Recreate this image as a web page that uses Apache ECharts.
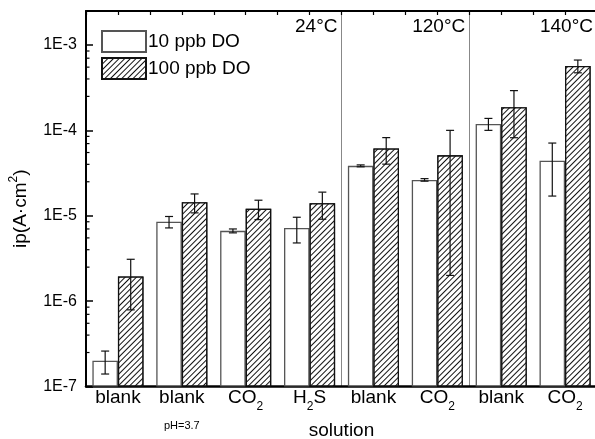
<!DOCTYPE html>
<html>
<head>
<meta charset="utf-8">
<script src="https://cdn.jsdelivr.net/npm/echarts@6/dist/echarts.min.js"></script>
<style>
html, body { margin: 0; padding: 0; background: #fff; }
#chart { width: 595px; height: 439px; }
</style>
</head>
<body>
<div id="chart"></div>
<script>
var categories = ['blank', 'blank', 'CO2', 'H2S', 'blank', 'CO2', 'blank', 'CO2'];
var categoryNotes = ['', 'pH=3.7', '', '', '', '', '', ''];
var seriesNames = ['10 ppb DO', '100 ppb DO'];
var do10 = [2.0e-7, 8.5e-6, 6.65e-6, 7.2e-6, 3.84e-5, 2.63e-5, 1.19e-4, 4.4e-5];
var do10Err = [0.6e-7, 1.3e-6, 0.35e-6, 2.4e-6, 1.0e-6, 0.9e-6, 1.9e-5, 2.7e-5];
var do100 = [1.94e-6, 1.44e-5, 1.21e-5, 1.4e-5, 6.12e-5, 5.1e-5, 1.87e-4, 5.69e-4];
var do100Err = [1.15e-6, 3.6e-6, 3.1e-6, 4.9e-6, 2.1e-5, 4.9e-5, 1.05e-4, 0.97e-4];
var tempLabels = ['24°C', '120°C', '140°C'];
var tempGroupEnds = [4, 6, 8];
var yMin = 1e-7, yMax = 2.5e-3;
var minorSteps = [2.5, 4, 5.5, 7, 8.5];

var FONT = '"Liberation Sans", Arial, sans-serif';

// CO2 -> CO{2}, H2S -> H{2}S
var subLabel = function(name) {
	return name.replace(/(\D+)|(\d)/g, function(m, a, d) {
		return a ? '{m|' + a + '}' : '{s|' + d + '}';
	});
};

var errData = function(vals, errs) {
	var out = [];
	for (var i = 0; i < vals.length; ++i) {
		out.push([i, vals[i] - errs[i], vals[i] + errs[i]]);
	}
	return out;
};

var minorData = [];
for (var d = -7; d < -2; ++d) {
	for (var k = 0; k < minorSteps.length; ++k) {
		var v = minorSteps[k] * Math.pow(10, d);
		if (v < yMax) minorData.push([0, v]);
	}
}

var makeErrRender = function(side) {
	return function(params, api) {
		var i = api.value(0);
		var bw = api.size([1, 0])[0];
		var lo = api.coord([i, api.value(1)]);
		var hi = api.coord([i, api.value(2)]);
		var x = lo[0] + side * bw * 0.2;
		var h = 4;
		var st = {stroke: '#111', lineWidth: 1.2};
		return {
			type: 'group',
			children: [
				{type: 'line', shape: {x1: x, y1: lo[1], x2: x, y2: hi[1]}, style: st},
				{type: 'line', shape: {x1: x - h, y1: lo[1], x2: x + h, y2: lo[1]}, style: st},
				{type: 'line', shape: {x1: x - h, y1: hi[1], x2: x + h, y2: hi[1]}, style: st}
			]
		};
	};
};

var myChart = echarts.init(document.getElementById('chart'), null, {renderer: 'canvas'});

var hatch = {
	symbol: 'rect',
	symbolSize: 1,
	dashArrayX: [1, 0],
	dashArrayY: [1, 3],
	rotation: -Math.PI / 4,
	color: '#111',
	backgroundColor: '#fff'
};

var option = {
	animation: false,
	backgroundColor: '#fff',
	textStyle: {fontFamily: FONT},
	grid: {left: 86, top: 11, right: -2, bottom: 52.5, containLabel: false, outerBoundsMode: 'none'},
	legend: {
		data: seriesNames,
		orient: 'vertical',
		left: 96,
		top: 25,
		itemWidth: 44,
		itemHeight: 21,
		itemGap: 4,
		icon: 'rect',
		textStyle: {fontSize: 19, color: '#000', fontFamily: FONT, padding: [0, 0, 0, -3]}
	},
	xAxis: [{
		type: 'category',
		data: categories,
		boundaryGap: true,
		axisLine: {lineStyle: {color: '#000', width: 2.5}},
		axisTick: {show: false},
		axisLabel: {
			interval: 0,
			margin: 2,
			color: '#000',
			formatter: function(value, idx) {
				var s = subLabel(value);
				if (categoryNotes[idx]) s += '\n{ph|' + categoryNotes[idx] + '}';
				return s;
			},
			rich: {
				m: {fontSize: 19, fontFamily: FONT, color: '#000', verticalAlign: 'top', lineHeight: 19},
				s: {fontSize: 12, fontFamily: FONT, color: '#000', verticalAlign: 'top', lineHeight: 12, padding: [12, 0, 0, 0]},
				ph: {fontSize: 11, fontFamily: FONT, color: '#000', lineHeight: 36}
			}
		},
		splitLine: {
			show: true,
			interval: function(i) { return tempGroupEnds.indexOf(i) >= 0; },
			lineStyle: {color: '#888', width: 1}
		},
		name: 'solution',
		nameLocation: 'middle',
		nameGap: 35,
		nameMoveOverlap: false,
		nameTextStyle: {fontSize: 19, color: '#000', fontFamily: FONT}
	}, {
		type: 'value',
		position: 'top',
		min: 0,
		max: categories.length * 2,
		interval: 1,
		axisLine: {show: true, lineStyle: {color: '#000', width: 2}},
		axisTick: {show: true, inside: true, length: 4, lineStyle: {color: '#000', width: 1.2}},
		axisLabel: {show: false},
		splitLine: {show: false}
	}],
	yAxis: {
		type: 'log',
		logBase: 10,
		min: yMin,
		max: yMax,
		startValue: yMin,
		axisLine: {show: true, lineStyle: {color: '#000', width: 2}},
		axisTick: {show: true, inside: true, length: 7, lineStyle: {color: '#000', width: 1.5}},
		axisLabel: {
			fontSize: 16,
			color: '#000',
			fontFamily: FONT,
			margin: 9,
			formatter: function(v) {
				var e = Math.log10(v);
				if (Math.abs(e - Math.round(e)) > 1e-6) return '';
				return '1E' + Math.round(e);
			}
		},
		splitLine: {show: false},
		name: '{m|ip(A·cm}{sup|2}{m|)}',
		nameLocation: 'middle',
		nameGap: 56,
		nameRotate: 90,
		nameMoveOverlap: false,
		nameTextStyle: {
			padding: [0, 20, 0, 0],
			rich: {
				m: {fontSize: 19, fontFamily: FONT, color: '#000', verticalAlign: 'bottom'},
				sup: {fontSize: 12, fontFamily: FONT, color: '#000', verticalAlign: 'top', padding: [0, 0, 10, 0]}
			}
		}
	},
	series: [{
		name: seriesNames[0],
		type: 'bar',
		data: do10,
		barGap: '0%',
		barCategoryGap: '20%',
		itemStyle: {color: '#fff', borderColor: '#555', borderWidth: 1.3}
	}, {
		name: seriesNames[1],
		type: 'bar',
		data: do100,
		barGap: '0%',
		barCategoryGap: '20%',
		itemStyle: {color: '#fff', borderColor: '#111', borderWidth: 1.3, decal: hatch}
	}, {
		type: 'custom',
		silent: true,
		z: 4,
		renderItem: makeErrRender(-1),
		encode: {x: 0, y: [1, 2]},
		data: errData(do10, do10Err)
	}, {
		type: 'custom',
		silent: true,
		z: 4,
		renderItem: makeErrRender(1),
		encode: {x: 0, y: [1, 2]},
		data: errData(do100, do100Err)
	}, {
		type: 'custom',
		silent: true,
		z: 4,
		renderItem: function(params, api) {
			var p = api.coord([0, api.value(1)]);
			var x0 = params.coordSys.x;
			return {type: 'line', shape: {x1: x0, y1: p[1], x2: x0 + 3.5, y2: p[1]}, style: {stroke: '#000', lineWidth: 1.2}};
		},
		encode: {x: 0, y: 1},
		data: minorData
	}]
};

myChart.setOption(option);

// temperature labels sit just left of each group divider
var graphics = [];
for (var t = 0; t < tempLabels.length; ++t) {
	var px = myChart.convertToPixel({xAxisIndex: 1}, tempGroupEnds[t] * 2);
	graphics.push({
		type: 'text',
		x: px - 4,
		y: 27,
		z: 10,
		style: {text: tempLabels[t], fontSize: 19, fontFamily: FONT, fill: '#000', align: 'right', verticalAlign: 'middle'}
	});
}
myChart.setOption({graphic: graphics});
</script>
</body>
</html>
